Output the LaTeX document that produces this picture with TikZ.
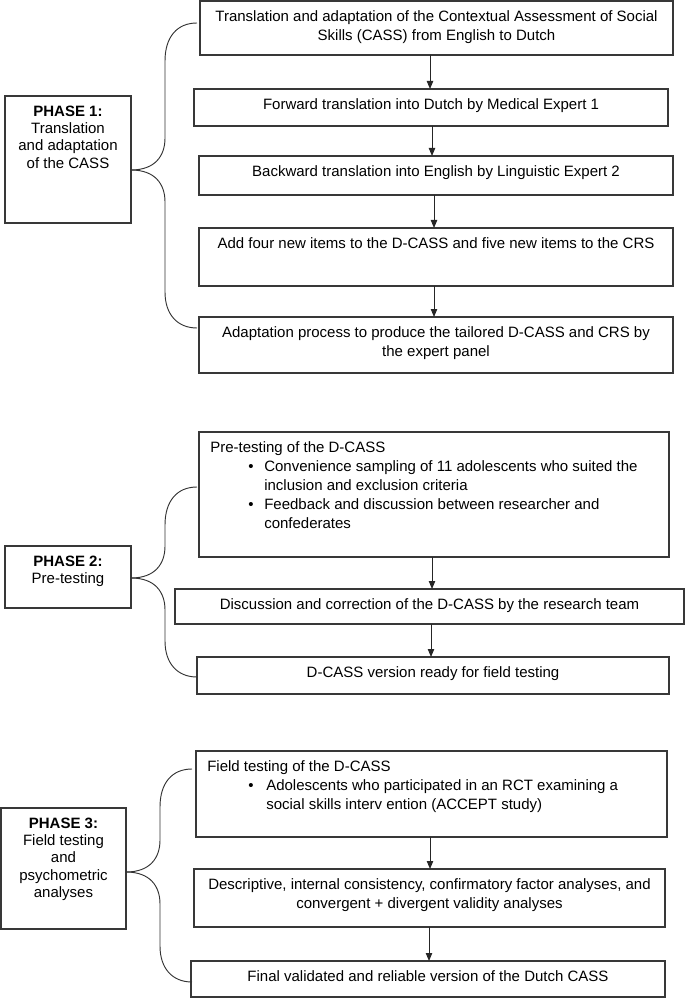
\documentclass[tikz,border=0pt]{standalone}
\usepackage{fontspec}
\setmainfont{Liberation Sans}
\usetikzlibrary{arrows.meta,calc}
\newcommand\mainfs{\fontsize{11.25pt}{14.25pt}\selectfont}
\newcommand\phasefs{\fontsize{11.25pt}{13pt}\selectfont}
\newcommand\pbox[5]{\node[bx, minimum width={(#4-#2)*0.75pt}, minimum height={(#5-#3)*0.75pt}] (#1) at (#2,#3) {};}
\tikzset{
  bx/.style={draw=black!78, line width=0.8pt, anchor=north west, inner sep=0pt, outer sep=0pt},
  txt/.style={anchor=north, inner sep=0pt, align=center, font=\mainfs},
  ltxt/.style={anchor=north west, inner sep=0pt, align=left, font=\mainfs},
  ptxt/.style={anchor=north, inner sep=0pt, align=center, font=\phasefs},
  arr/.style={draw=black!85, line width=0.75pt, -{Triangle[length=6pt,width=4.8pt]}},
  brc/.style={draw=black!80, line width=0.7pt},
}
\newcommand\phasebrace[3]{%
  \draw[brc] (#1) .. controls ($(#1)+(24,0)$) and ($(#1)+(34,-14)$) .. ($(#1)+(34,-32)$)
     -- ($(#2)+(-32,38)$) .. controls ($(#2)+(-32,14)$) and ($(#2)+(-20,0)$) .. (#2);
  \draw[brc] (#1) .. controls ($(#1)+(24,0)$) and ($(#1)+(34,14)$) .. ($(#1)+(34,32)$)
     -- ($(#3)+(-32,-36)$) .. controls ($(#3)+(-32,-14)$) and ($(#3)+(-20,0)$) .. (#3);
}
\begin{document}
\begin{tikzpicture}[x=0.75pt,y=-0.75pt]
\useasboundingbox (0,0) rectangle (685,998);
% ---------- PHASE 1 ----------
\pbox{A}{200}{1}{673}{55}
\pbox{B}{194}{89}{668}{126}
\pbox{C}{199}{156}{673}{195}
\pbox{D}{199}{228}{673}{286}
\pbox{E}{199}{317}{673}{373}
\pbox{P1}{5}{96}{131}{223}
\node[txt] (At) at ($(A.north)+(0,6.7)$) {\strut Translation and adaptation of the Contextual Assessment of Social\\Skills (CASS) from English to Dutch};
\node[txt] (Bt) at ($(B.north)+(0,6.7)$) {\strut Forward translation into Dutch by Medical Expert 1};
\node[txt] (Ct) at ($(C.north)+(0,6.7)$) {\strut Backward translation into English by Linguistic Expert 2};
\node[txt] (Dt) at ($(D.north)+(0,6.7)$) {\strut Add four new items to the D-CASS and five new items to the CRS};
\node[txt] (Et) at ($(E.north)+(0,6.7)$) {\strut Adaptation process to produce the tailored D-CASS and CRS by\\the expert panel};
\node[ptxt] (P1t) at ($(P1.north)+(0,7.9)$) {\strut\textbf{PHASE 1:}\\Translation\\and adaptation\\of the CASS};
\coordinate (a1) at (430,0);
\coordinate (a2) at (432,0);
\coordinate (a3) at (434,0);
\draw[arr] (A.south -| a1) -- (B.north -| a1);
\draw[arr] (B.south -| a2) -- (C.north -| a2);
\draw[arr] (C.south -| a3) -- (D.north -| a3);
\draw[arr] (D.south -| a3) -- (E.north -| a3);
\coordinate (t1) at (P1.east |- 0,170);
\coordinate (u1) at (197,23);
\coordinate (l1) at (197,328);
\phasebrace{t1}{u1}{l1}
% ---------- PHASE 2 ----------
\pbox{PT}{199}{432}{669}{557}
\pbox{DI}{175}{589}{684}{624}
\pbox{RD}{197}{657}{669}{694}
\pbox{P2}{5}{546}{131}{608}
\node[ltxt] (PTt) at ($(PT.north west)+(11,6.7)$) {\strut Pre-testing of the D-CASS\\
\hspace*{28.5pt}\makebox[12pt][l]{\textbullet}Convenience sampling of 11 adolescents who suited the\\
\hspace*{40.5pt}inclusion and exclusion criteria\\
\hspace*{28.5pt}\makebox[12pt][l]{\textbullet}Feedback and discussion between researcher and\\
\hspace*{40.5pt}confederates};
\node[txt] (DIt) at ($(DI.north)+(0,6.7)$) {\strut Discussion and correction of the D-CASS by the research team};
\node[txt] (RDt) at ($(RD.north)+(0,6.7)$) {\strut D-CASS version ready for field testing};
\node[ptxt] (P2t) at ($(P2.north)+(0,7.9)$) {\strut\textbf{PHASE 2:}\\Pre-testing};
\coordinate (a4) at (432,0);
\coordinate (a5) at (431,0);
\draw[arr] (PT.south -| a4) -- (DI.north -| a4);
\draw[arr] (DI.south -| a5) -- (RD.north -| a5);
\coordinate (t2) at (P2.east |- 0,578);
\coordinate (u2) at (197,487);
\coordinate (l2) at (197,677);
\phasebrace{t2}{u2}{l2}
% ---------- PHASE 3 ----------
\pbox{FT}{196}{751}{667}{837}
\pbox{DE}{194}{869}{665}{927}
\pbox{FI}{191}{961}{665}{997}
\pbox{P3}{1}{808}{126}{929}
\node[ltxt] (FTt) at ($(FT.north west)+(11,6.7)$) {\strut Field testing of the D-CASS\\
\hspace*{30.75pt}\makebox[13.5pt][l]{\textbullet}Adolescents who participated in an RCT examining a\\
\hspace*{44.25pt}social skills interv ention (ACCEPT study)};
\node[txt] (DEt) at ($(DE.north)+(0,6.7)$) {\strut Descriptive, internal consistency, confirmatory factor analyses, and\\convergent + divergent validity analyses};
\node[txt] (FIt) at ($(FI.north)+(0,6.7)$) {\strut Final validated and reliable version of the Dutch CASS};
\node[ptxt] (P3t) at ($(P3.north)+(0,7.9)$) {\strut\textbf{PHASE 3:}\\Field testing\\and\\psychometric\\analyses};
\coordinate (a6) at (430,0);
\coordinate (a7) at (429,0);
\draw[arr] (FT.south -| a6) -- (DE.north -| a6);
\draw[arr] (DE.south -| a7) -- (FI.north -| a7);
\coordinate (t3) at (P3.east |- 0,872);
\coordinate (u3) at (192,769);
\coordinate (l3) at (192,982);
\phasebrace{t3}{u3}{l3}
\end{tikzpicture}
\end{document}
